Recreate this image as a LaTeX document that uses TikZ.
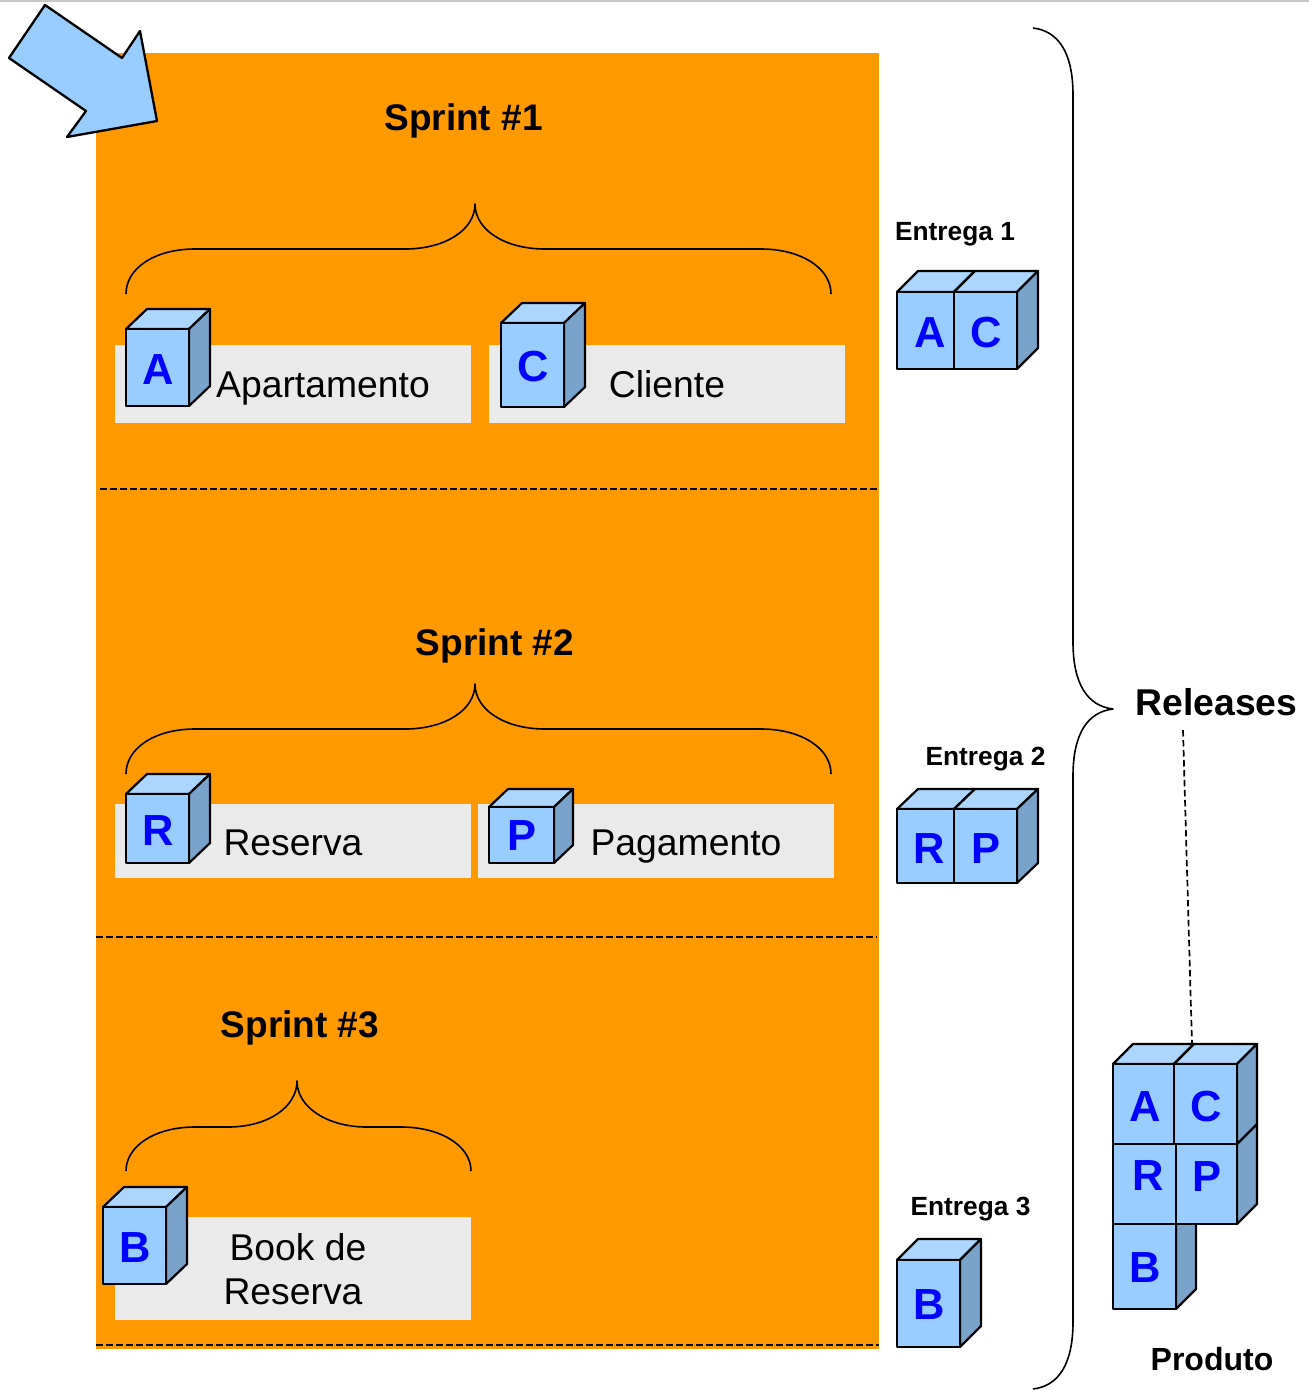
\documentclass[tikz,border=0pt]{standalone}
\usepackage{fontspec}
\setmainfont{Liberation Sans}
\definecolor{sprintorange}{HTML}{FF9900}
\definecolor{cubefront}{HTML}{99CCFF}
\definecolor{cubetop}{HTML}{ADD6FF}
\definecolor{cubeside}{HTML}{7AA3CC}
\definecolor{letterblue}{HTML}{0000FF}
\definecolor{panelgrey}{HTML}{EAEAEA}
\newcommand{\szt}[1]{\fontsize{#1}{#1}\selectfont}
% \cubebox{name}{x1}{y1}{x2}{y2}{dx}{dy}{letter}{letter x}{letter baseline y}
\newcommand{\cubebox}[9]{%
  \filldraw[cubeedge,fill=cubetop] (#2,#3) -- ++(#6,-#7) -- (#4+#6,#3-#7) -- (#4,#3) -- cycle;
  \filldraw[cubeedge,fill=cubeside] (#4,#3) -- (#4+#6,#3-#7) -- (#4+#6,#5-#7) -- (#4,#5) -- cycle;
  \filldraw[cubeedge,fill=cubefront] (#2,#3) rectangle (#4,#5);
  \cubeletter{#1}{#8}{#9}}
\newcommand{\cubeletter}[3]{\node[cubetext] (#1) at (#3) {#2};}
\tikzset{
  cubeedge/.style={draw=black,line width=2.2pt,line join=round},
  cubetext/.style={anchor=base,inner sep=0pt,text=letterblue,font=\szt{43.5}\bfseries},
  panel/.style={fill=panelgrey,draw=none},
  bracket/.style={draw=black,line width=1.6pt,fill=none,line join=round},
  sep/.style={draw=black,line width=1.7pt,dash pattern=on 6.5pt off 3.5pt},
  title/.style={anchor=base,inner sep=0pt,font=\szt{37}\bfseries},
  deliver/.style={anchor=base,inner sep=0pt,font=\szt{26.3}\bfseries},
  story/.style={anchor=base,inner sep=0pt,font=\szt{37.3}},
}
\begin{document}
\begin{tikzpicture}[x=1pt,y=-1pt]
\useasboundingbox (0,0) rectangle (1309,1390);
\draw[color=black!22,line width=2.4pt] (0,1) -- (1309,1);
\fill[sprintorange] (96,53) rectangle (879,1349);
\filldraw[draw=black,line width=2.3pt,fill=cubefront,line join=round] (45,5) -- (122,58) -- (140,31) -- (157,121) -- (67,137) -- (86,111) -- (9,58) -- cycle;
\draw[sep] (100,489) -- (879,489);
\draw[sep] (96,937) -- (877,937);
\draw[sep] (96,1345) -- (879,1345);
\fill[panel] (115,345) rectangle (471,423);
\fill[panel] (489,345) rectangle (845,423);
\fill[panel] (115,804) rectangle (471,878);
\fill[panel] (478,804) rectangle (834,878);
\fill[panel] (115,1217) rectangle (471,1320);
\node[title] (s1) at (463.5,130) {Sprint \#1};
\node[title] (s2) at (495,655) {Sprint \#2};
\node[title] (s3) at (300,1037) {Sprint \#3};
% sprint braces
\draw[bracket] (126,294) .. controls (126,268) and (155,249) .. (195,249) -- (405,249) .. controls (445,249) and (475,230) .. (475,204) .. controls (475,230) and (505,249) .. (545,249) -- (761,249) .. controls (801,249) and (831,268) .. (831,294);
\draw[bracket] (126,774) .. controls (126,748) and (155,729) .. (195,729) -- (405,729) .. controls (445,729) and (475,710) .. (475,684) .. controls (475,710) and (505,729) .. (545,729) -- (761,729) .. controls (801,729) and (831,748) .. (831,774);
\draw[bracket] (126,1171) .. controls (126,1146) and (155,1127) .. (195,1127) -- (228,1127) .. controls (268,1127) and (297,1107) .. (297,1081) .. controls (297,1107) and (327,1127) .. (367,1127) -- (401,1127) .. controls (441,1127) and (471,1146) .. (471,1171);
% releases brace
\draw[bracket] (1033,28) .. controls (1058,31) and (1073,52) .. (1073,95) -- (1073,642) .. controls (1073,685) and (1088,706) .. (1113,709) .. controls (1088,712) and (1073,733) .. (1073,776) -- (1073,1322) .. controls (1073,1365) and (1058,1386) .. (1033,1389);
% sprint cubes
\cubebox{ca}{126}{329}{189}{406}{21}{20}{A}{158,384}
\cubebox{cc}{501}{323}{564}{407}{21}{20}{C}{533,381}
\cubebox{cr}{126}{794}{189}{863}{21}{20}{R}{158,845}
\cubebox{cp}{489}{807}{554}{863}{19}{18}{P}{522,850}
\cubebox{cb}{103}{1207}{166}{1284}{21}{20}{B}{135,1262}
% story labels
\node[story] (apt) at (323,397) {Apartamento};
\node[story] (cli) at (667,397) {Cliente};
\node[story] (res) at (293,855) {Reserva};
\node[story] (pag) at (686,855) {Pagamento};
\node[story] (book) at (298,1260) {Book de};
\node[story] (bookb) at (293,1304) {Reserva};
% deliveries
\node[deliver] (e1) at (955,240) {Entrega 1};
\node[deliver] (e2) at (985.5,765) {Entrega 2};
\node[deliver] (e3) at (970.5,1215) {Entrega 3};
\cubebox{ea}{897}{292}{954}{369}{21}{21}{A}{930,347}
\cubebox{ec}{954}{292}{1017}{369}{21}{21}{C}{986,347}
\cubebox{er}{897}{809}{954}{883}{21}{20}{R}{929,863}
\cubebox{ep}{954}{809}{1017}{883}{21}{20}{P}{986,863}
\cubebox{eb}{897}{1260}{960}{1347}{21}{21}{B}{929,1319}
% releases
\node[anchor=base,inner sep=0pt,font=\szt{37.3}\bfseries] (rel) at (1216.5,715) {Releases};
\coordinate (dashtop) at (1183,730);
\coordinate (dashend) at (1192,1044);
\draw[sep] (dashtop) -- (dashend);
% product
\cubebox{pb}{1113}{1224}{1176}{1309}{20}{20}{B}{1145,1282}
\cubebox{pr}{1113}{1144}{1176}{1224}{0}{0}{R}{1148,1190}
\cubebox{pp}{1176}{1144}{1237}{1224}{20}{20}{P}{1207,1191}
\cubebox{pa}{1113}{1064}{1174}{1144}{20}{20}{A}{1145,1121}
\cubebox{pc}{1174}{1064}{1237}{1144}{20}{20}{C}{1206,1121}
\node[anchor=base,inner sep=0pt,font=\szt{32}\bfseries] (prod) at (1212,1370) {Produto};
\end{tikzpicture}
\end{document}
